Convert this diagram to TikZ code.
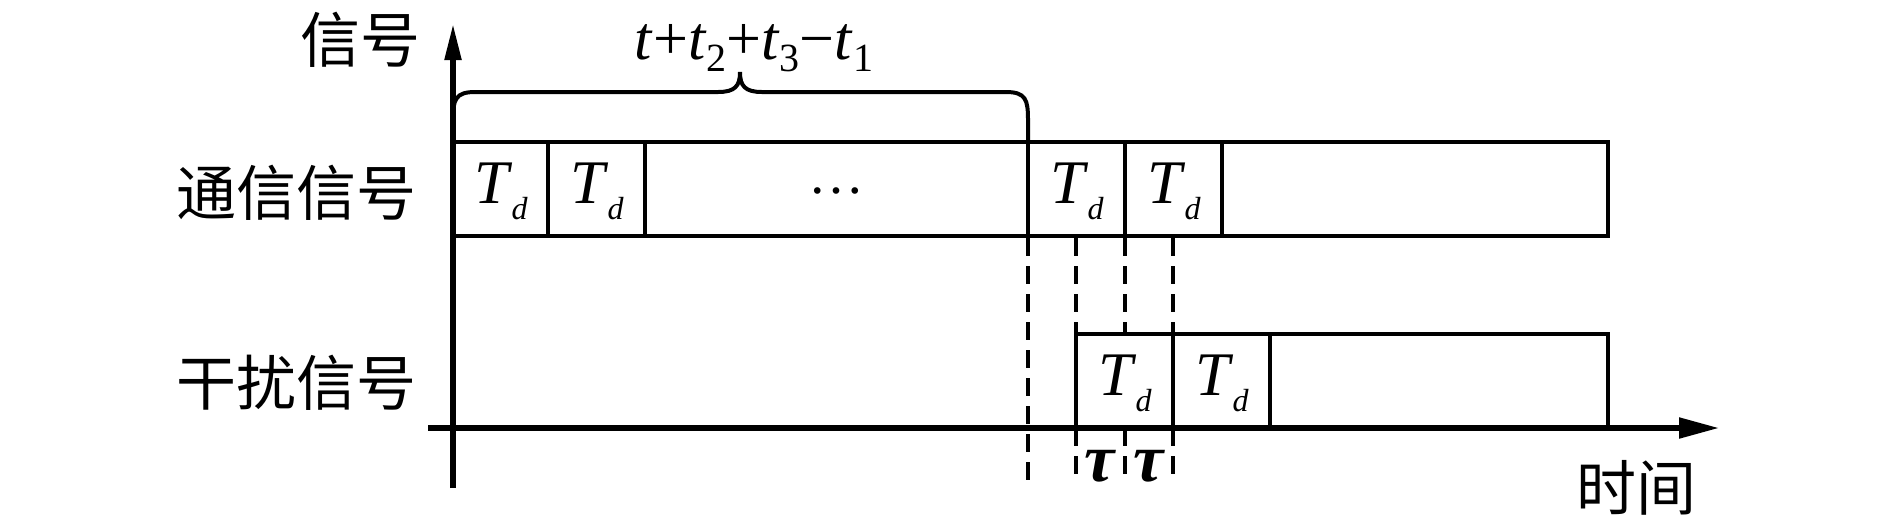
\documentclass[tikz,border=0pt]{standalone}
\usepackage{fontspec}
\setmainfont{Liberation Serif}
\newfontfamily\cjkfont{Noto Sans CJK SC}
\usetikzlibrary{arrows.meta}
\newcommand{\Tdsym}{{\fontsize{31}{31}\selectfont\textit{T}}\kern-0.5pt\raisebox{-8pt}{\fontsize{16}{16}\selectfont\textit{d}}}
\newcommand{\sbsym}[1]{\raisebox{-6pt}{\fontsize{20}{20}\selectfont #1}}
\begin{document}
\begin{tikzpicture}[x=0.5pt,y=-0.5pt,
  boxline/.style={line width=2pt},
  axisline/.style={line width=2.6pt},
  dashline/.style={line width=1.8pt,dash pattern=on 9pt off 5pt},
  cjklab/.style={font=\cjkfont\fontsize{30}{30}\selectfont, inner sep=0pt},
  celllab/.style={inner sep=0pt},
  taulab/.style={font=\fontsize{34}{34}\selectfont\bfseries\itshape, inner sep=0pt}]
\useasboundingbox (0,0) rectangle (1889,516);
% coordinates
\coordinate (ybot) at (453,488);
\coordinate (ytop) at (453,24);
\coordinate (xl) at (428,428);
\coordinate (xr) at (1719,428);
% axes
\draw[axisline,-{Triangle[length=18pt,width=8pt]}] (ybot) -- (ytop);
\draw[axisline,-{Triangle[length=20pt,width=10pt]}] (xl) -- (xr);
% communication signal box
\draw[boxline] (453,142) -- (1608,142) -- (1608,236) -- (453,236);
\foreach \xx in {548,645,1028,1125,1222} \draw[boxline] (\xx,142) -- (\xx,236);
% interference box
\draw[boxline] (1076,428) -- (1076,334) -- (1608,334) -- (1608,428);
\foreach \xx in {1173,1270} \draw[boxline] (\xx,334) -- (\xx,428);
% dashed lines
\draw[dashline] (1028,238) -- (1028,482);
\draw[dashline] (1076,238) -- (1076,334);
\draw[dashline] (1076,428) -- (1076,482);
\draw[dashline] (1125,238) -- (1125,334);
\draw[dashline] (1125,428) -- (1125,482);
\draw[dashline] (1173,238) -- (1173,334);
\draw[dashline] (1173,428) -- (1173,482);
% brace
\draw[boxline] (453,120) .. controls (453,100) and (455,92) .. (475,92) -- (718,92)
  .. controls (735,92) and (740,86) .. (740,72)
  .. controls (740,86) and (745,92) .. (762,92) -- (1006,92)
  .. controls (1026,92) and (1028,100) .. (1028,120) -- (1028,142);
% labels
\node[cjklab] (ylab) at (360,40) {信号};
\node[cjklab] (comm) at (296,193) {通信信号};
\node[cjklab] (jam) at (296,383) {干扰信号};
\node[cjklab] (tlab) at (1636,488) {时间};
\node[inner sep=0pt, font=\fontsize{31}{31}\selectfont] (sum) at (754,48)
  {\textit{t}+\textit{t}\sbsym{2}+\textit{t}\sbsym{3}−\textit{t}\sbsym{1}};
\node[celllab] (c1) at (501,191) {\Tdsym};
\node[celllab] (c2) at (597,191) {\Tdsym};
\node[celllab, font=\fontsize{28}{28}\selectfont] (dots) at (836,191) {…};
\node[celllab] (c3) at (1077,191) {\Tdsym};
\node[celllab] (c4) at (1174,191) {\Tdsym};
\node[celllab] (j1) at (1125,383) {\Tdsym};
\node[celllab] (j2) at (1222,383) {\Tdsym};
\node[taulab] (tau1) at (1100,466) {τ};
\node[taulab] (tau2) at (1149,466) {τ};
\end{tikzpicture}
\end{document}
